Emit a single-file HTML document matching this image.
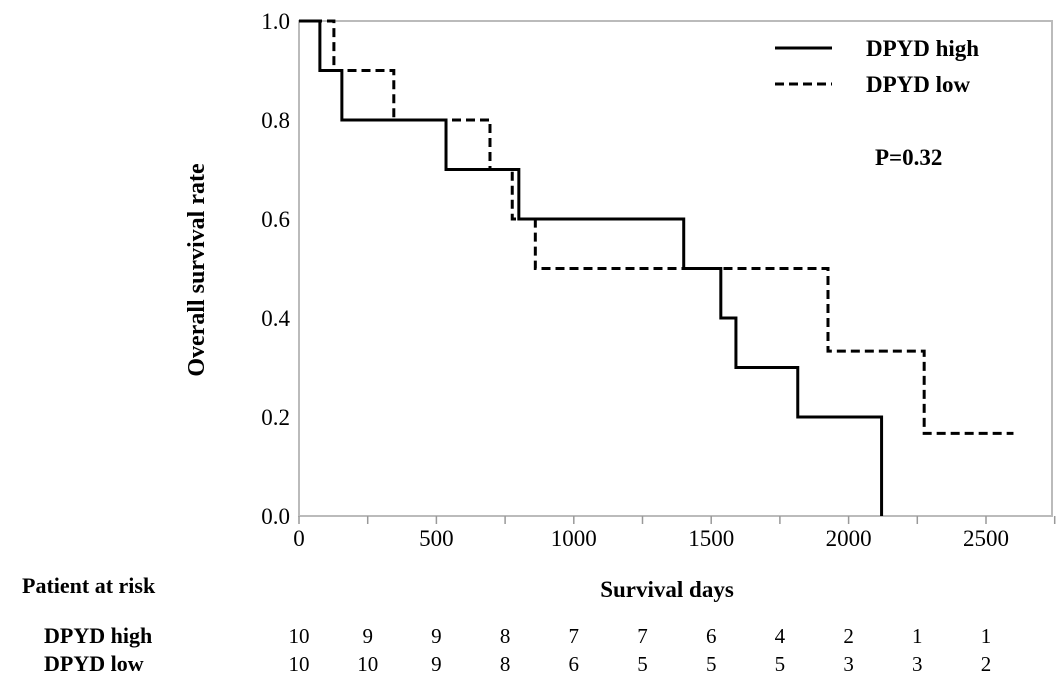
<!DOCTYPE html>
<html><head><meta charset="utf-8"><style>
body{margin:0;background:#fff;}
svg text{font-family:"Liberation Serif",serif;font-weight:bold;fill:#000;}
</style></head><body>
<svg id="chart" width="1063" height="685" viewBox="0 0 1063 685" xmlns="http://www.w3.org/2000/svg">
<g id="axes"></g><g id="series"></g>
<text x="0" y="0" font-size="24" text-anchor="middle" transform="translate(204,270) rotate(-90)">Overall survival rate</text>
<text x="667" y="597" font-size="23" text-anchor="middle">Survival days</text>
<text x="22" y="593" font-size="22">Patient at risk</text>
<text x="44" y="643" font-size="22">DPYD high</text>
<text x="44" y="671" font-size="22">DPYD low</text>
<g>
<line x1="775" y1="48" x2="832" y2="48" stroke="#000" stroke-width="3"/>
<text x="866" y="56" font-size="23">DPYD high</text>
<line x1="775" y1="84" x2="832" y2="84" stroke="#000" stroke-width="3" stroke-dasharray="9,5"/>
<text x="866" y="92" font-size="23">DPYD low</text>
</g>
<text x="875" y="165" font-size="23">P=0.32</text>
<g id="risk"></g>
</svg>
<script>
const xTicks=[0,500,1000,1500,2000,2500];
const yTicks=[0,0.2,0.4,0.6,0.8,1.0];
const highTimes=[0,76,156,535,800,1400,1535,1590,1815,2120];
const highSurv=[1.0,0.9,0.8,0.7,0.6,0.5,0.4,0.3,0.2,0.0];
const lowTimes=[0,127,345,695,776,860,1925,2275];
const lowSurv=[1.0,0.9,0.8,0.7,0.6,0.5,0.333,0.167];
const lowEnd=2600;
const riskDays=[0,250,500,750,1000,1250,1500,1750,2000,2250,2500];
const riskHigh=[10,9,9,8,7,7,6,4,2,1,1];
const riskLow=[10,10,9,8,6,5,5,5,3,3,2];
const NS='http://www.w3.org/2000/svg';
const X0=299,XS=137.4/500,Y0=516,YS=495;
const sx=d=>X0+d*XS, sy=v=>Y0-v*YS;
function mk(tag,attrs,parent){const e=document.createElementNS(NS,tag);for(const k in attrs)e.setAttribute(k,attrs[k]);parent.appendChild(e);return e;}
const ax=document.getElementById('axes');
let f=mk('rect',{x:X0,y:sy(1),width:1052-X0,height:Y0-sy(1),fill:'none',stroke:'#bbb','stroke-width':2},ax);


for(let d=0;d<=2750;d+=250){let t=mk('line',{x1:sx(d),y1:Y0,x2:sx(d),y2:Y0+8,stroke:'#999','stroke-width':1.5},ax);

}
xTicks.forEach(v=>{let t=mk('text',{x:sx(v),y:Y0+30,'font-size':23,'text-anchor':'middle'},ax);t.textContent=v;


t.style.fontWeight='normal';});
yTicks.forEach(v=>{let t=mk('text',{x:X0-9,y:sy(v)+8,'font-size':23,'text-anchor':'end'},ax);t.textContent=v.toFixed(1);


t.style.fontWeight='normal';});
function step(times,surv,end){let d='M'+sx(times[0])+','+sy(surv[0]);
for(let i=1;i<times.length;i++){d+=' H'+sx(times[i])+' V'+sy(surv[i]);}
if(end!==undefined)d+=' H'+sx(end);return d;}
const sr=document.getElementById('series');
let h=mk('path',{d:step(highTimes,highSurv),fill:'none',stroke:'#000','stroke-width':3},sr);


let l=mk('path',{d:step(lowTimes,lowSurv,lowEnd),fill:'none',stroke:'#000','stroke-width':3,'stroke-dasharray':'9,5'},sr);


const rk=document.getElementById('risk');
riskDays.forEach((d,i)=>{
let a=mk('text',{x:sx(d),y:643,'font-size':21,'text-anchor':'middle'},rk);a.textContent=riskHigh[i];a.style.fontWeight='normal';


let b=mk('text',{x:sx(d),y:671,'font-size':21,'text-anchor':'middle'},rk);b.textContent=riskLow[i];b.style.fontWeight='normal';

});
</script>
</body></html>
